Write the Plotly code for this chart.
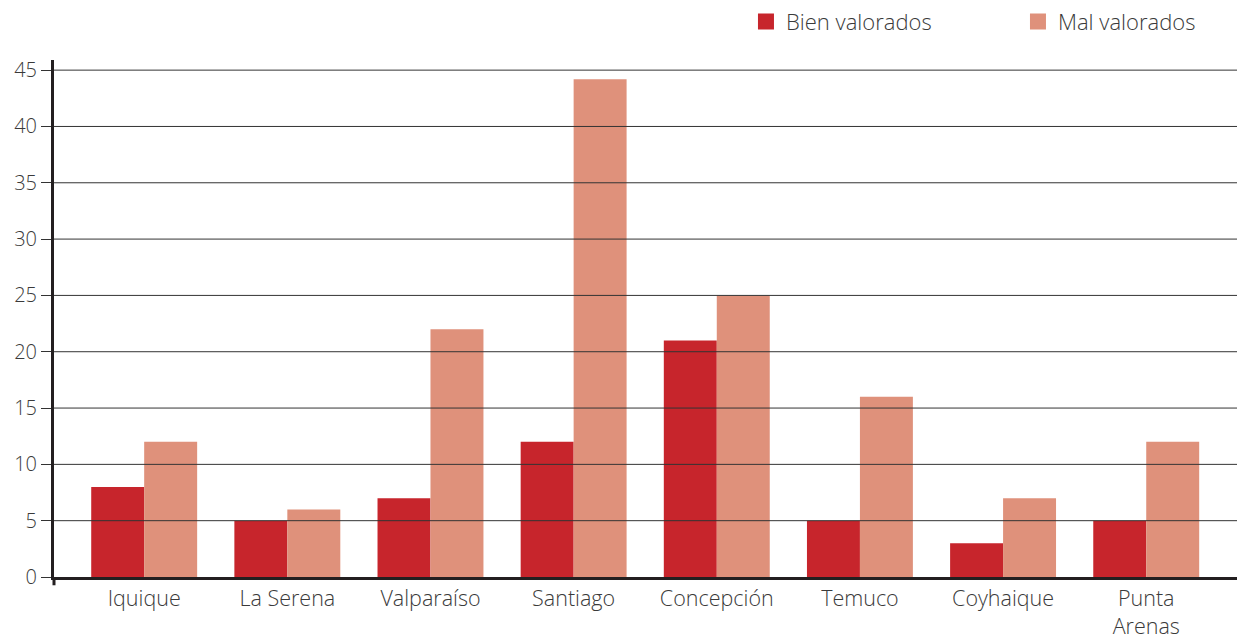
import plotly.graph_objects as go

cities = ["Iquique", "La Serena", "Valparaíso", "Santiago", "Concepción",
          "Temuco", "Coyhaique", "Punta<br>Arenas"]
bien = [8, 5, 7, 12, 21, 5, 3, 5]
mal = [12, 6, 22, 44.2, 25, 16, 7, 12]
y_ticks = [0, 5, 10, 15, 20, 25, 30, 35, 40, 45]

DARK = "#c7252c"
LIGHT = "#df917b"
INK = "#231f20"
FONT = "Open Sans"
TEXT = "#3a3a3a"

fig = go.Figure()
fig.add_trace(go.Bar(x=cities, y=bien, name="Bien valorados",
                     marker={"color": DARK, "line": {"width": 0}},
                     showlegend=False))
fig.add_trace(go.Bar(x=cities, y=mal, name="Mal valorados",
                     marker={"color": LIGHT, "line": {"width": 0}},
                     showlegend=False))

# legend entries with bigger square swatches
for name, color in (("Bien valorados", DARK), ("Mal valorados", LIGHT)):
    fig.add_trace(go.Scatter(x=[None], y=[None], mode="markers", name=name,
                             marker={"symbol": "square", "size": 16,
                                     "color": color}))

# gridlines sit on top of the bars in the original
for t in y_ticks[1:]:
    fig.add_shape(type="line", xref="paper", yref="y", x0=0, x1=1, y0=t, y1=t,
                  line={"color": "#333333", "width": 1}, layer="above")
# small stub of the y axis below the baseline
fig.add_shape(type="line", xref="paper", yref="paper", x0=0, x1=0, y0=0,
              y1=-0.016, line={"color": INK, "width": 3}, layer="above")

# page body has an 8px margin, so the figure is shrunk by that much
fig.update_layout(
    barmode="group",
    bargap=0.26,
    bargroupgap=0,
    width=1237,
    height=626,
    margin={"l": 46, "r": 0, "t": 52, "b": 57, "autoexpand": False},
    plot_bgcolor="white",
    paper_bgcolor="white",
    font={"family": FONT, "size": 20, "color": TEXT, "weight": 300},
    legend={"orientation": "h", "x": 0.581, "xanchor": "left", "y": 1.074,
            "yanchor": "middle",
            "font": {"size": 22, "color": TEXT, "weight": 300},
            "entrywidth": 227, "entrywidthmode": "pixels",
            "bgcolor": "rgba(0,0,0,0)"},
)
fig.update_xaxes(
    type="category",
    range=[-0.63, 7.69],
    automargin=False,
    showgrid=False,
    showline=True,
    linecolor=INK,
    linewidth=3,
    ticks="",
    tickfont={"size": 21.5, "weight": 300},
    layer="above traces",
)
fig.update_yaxes(
    range=[0, 45.9],
    tickvals=y_ticks,
    automargin=False,
    showgrid=False,
    zeroline=False,
    showline=True,
    linecolor=INK,
    linewidth=3,
    ticks="outside",
    ticklen=10,
    tickwidth=1,
    tickcolor="#333333",
    tickfont={"size": 20, "weight": 300},
    layer="above traces",
)

fig.write_html("out.html")
